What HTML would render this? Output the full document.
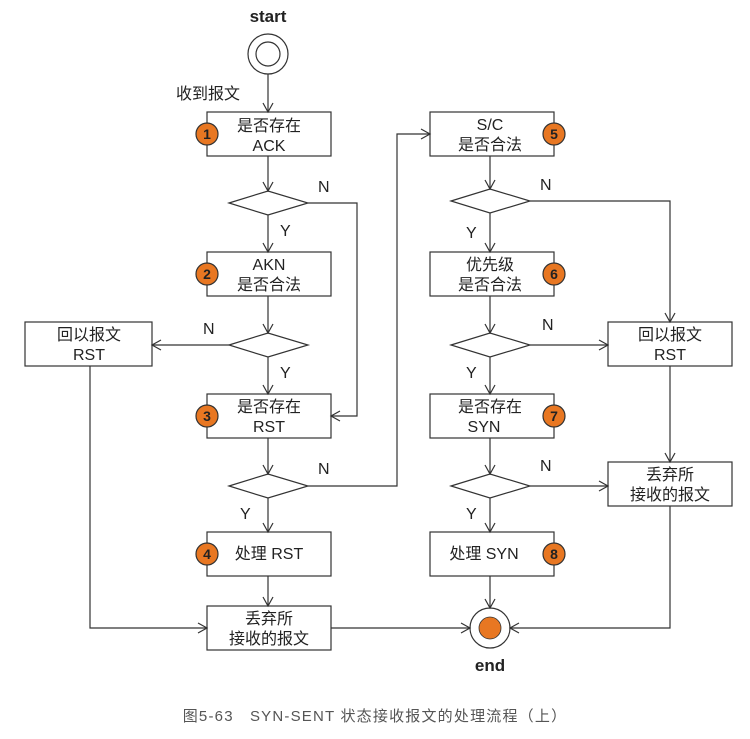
<!DOCTYPE html>
<html><head><meta charset="utf-8"><style>
body{margin:0;background:#fff;}
text{font-family:"Liberation Sans","Noto Sans CJK SC",sans-serif;fill:#222;}
</style></head><body>
<svg width="750" height="734" viewBox="0 0 750 734" xmlns="http://www.w3.org/2000/svg">
<defs><marker id="a" markerWidth="12" markerHeight="12" refX="10" refY="6" orient="auto" markerUnits="userSpaceOnUse"><path d="M1,1 L10,6 L1,11" fill="none" stroke="#333" stroke-width="1.2"/></marker></defs>
<g stroke="#333" stroke-width="1.2" fill="none">
<circle cx="268" cy="54" r="20"/><circle cx="268" cy="54" r="12"/>
<rect x="207" y="112" width="124" height="44"/>
<rect x="207" y="252" width="124" height="44"/>
<rect x="207" y="394" width="124" height="44"/>
<rect x="207" y="532" width="124" height="44"/>
<rect x="207" y="606" width="124" height="44"/>
<rect x="25" y="322" width="127" height="44"/>
<rect x="430" y="112" width="124" height="44"/>
<rect x="430" y="252" width="124" height="44"/>
<rect x="430" y="394" width="124" height="44"/>
<rect x="430" y="532" width="124" height="44"/>
<rect x="608" y="322" width="124" height="44"/>
<rect x="608" y="462" width="124" height="44"/>
<polygon points="229,203 268,191 308,203 268,215"/>
<polygon points="229,345 268,333 308,345 268,357"/>
<polygon points="229,486 268,474 308,486 268,498"/>
<polygon points="451,201 490,189 530,201 490,213"/>
<polygon points="451,345 490,333 530,345 490,357"/>
<polygon points="451,486 490,474 530,486 490,498"/>
<circle cx="490" cy="628" r="20"/>
<g marker-end="url(#a)">
<line x1="268" y1="74" x2="268" y2="112"/>
<line x1="268" y1="156" x2="268" y2="191"/>
<line x1="268" y1="215" x2="268" y2="252"/>
<line x1="268" y1="296" x2="268" y2="333"/>
<line x1="268" y1="357" x2="268" y2="394"/>
<line x1="268" y1="438" x2="268" y2="474"/>
<line x1="268" y1="498" x2="268" y2="532"/>
<line x1="268" y1="576" x2="268" y2="606"/>
<polyline points="308,203 357,203 357,416 331,416"/>
<polyline points="308,486 397,486 397,134 430,134"/>
<line x1="229" y1="345" x2="152" y2="345"/>
<polyline points="90,366 90,628 207,628"/>
<line x1="331" y1="628" x2="470" y2="628"/>
<line x1="490" y1="156" x2="490" y2="189"/>
<line x1="490" y1="213" x2="490" y2="252"/>
<line x1="490" y1="296" x2="490" y2="333"/>
<line x1="490" y1="357" x2="490" y2="394"/>
<line x1="490" y1="438" x2="490" y2="474"/>
<line x1="490" y1="498" x2="490" y2="532"/>
<line x1="490" y1="576" x2="490" y2="608"/>
<polyline points="530,201 670,201 670,322"/>
<line x1="530" y1="345" x2="608" y2="345"/>
<line x1="670" y1="366" x2="670" y2="462"/>
<line x1="530" y1="486" x2="608" y2="486"/>
<polyline points="670,506 670,628 510,628"/>
</g>
</g>
<circle cx="490" cy="628" r="11" fill="#E87722" stroke="#333" stroke-width="0.8"/>
<g fill="#E87722" stroke="#333" stroke-width="1.2">
<circle cx="207" cy="134" r="11"/><circle cx="207" cy="274" r="11"/><circle cx="207" cy="416" r="11"/><circle cx="207" cy="554" r="11"/>
<circle cx="554" cy="134" r="11"/><circle cx="554" cy="274" r="11"/><circle cx="554" cy="416" r="11"/><circle cx="554" cy="554" r="11"/>
</g>
<g font-size="14" font-weight="bold" text-anchor="middle">
<text x="207" y="139">1</text><text x="207" y="279">2</text><text x="207" y="421">3</text><text x="207" y="559">4</text>
<text x="554" y="139">5</text><text x="554" y="279">6</text><text x="554" y="421">7</text><text x="554" y="559">8</text>
<text x="268" y="22" font-size="17">start</text>
<text x="490" y="671" font-size="17">end</text>
</g>
<g font-size="16" text-anchor="middle">
<text x="269" y="131">是否存在</text><text x="269" y="151">ACK</text>
<text x="269" y="270">AKN</text><text x="269" y="290">是否合法</text>
<text x="269" y="412">是否存在</text><text x="269" y="432">RST</text>
<text x="269" y="559">处理 RST</text>
<text x="269" y="624">丢弃所</text><text x="269" y="644">接收的报文</text>
<text x="89" y="340">回以报文</text><text x="89" y="360">RST</text>
<text x="490" y="130">S/C</text><text x="490" y="150">是否合法</text>
<text x="490" y="270">优先级</text><text x="490" y="290">是否合法</text>
<text x="490" y="412">是否存在</text><text x="484" y="432">SYN</text>
<text x="484" y="559">处理 SYN</text>
<text x="670" y="340">回以报文</text><text x="670" y="360">RST</text>
<text x="670" y="480">丢弃所</text><text x="670" y="500">接收的报文</text>
<text x="208" y="99">收到报文</text>
</g>
<g font-size="16">
<text x="318" y="192">N</text><text x="280" y="236">Y</text>
<text x="203" y="334">N</text><text x="280" y="378">Y</text>
<text x="318" y="474">N</text><text x="240" y="519">Y</text>
<text x="540" y="190">N</text><text x="466" y="238">Y</text>
<text x="542" y="330">N</text><text x="466" y="378">Y</text>
<text x="540" y="471">N</text><text x="466" y="519">Y</text>
</g>
<text x="375" y="721" font-size="15" text-anchor="middle" letter-spacing="1.2" style="fill:#555">图5-63　SYN-SENT 状态接收报文的处理流程（上）</text>
</svg>
</body></html>
